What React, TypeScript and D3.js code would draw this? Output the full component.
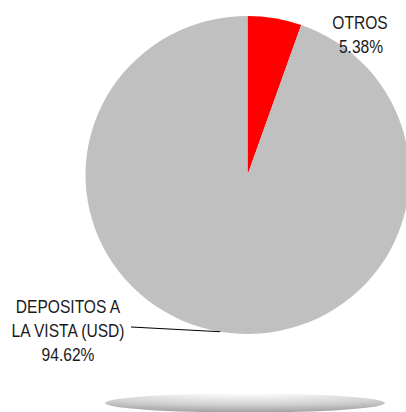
import React from "react";
import * as d3 from "d3";

const categories = ["OTROS", "DEPOSITOS A LA VISTA (USD)"];
const labelLines = [["OTROS"], ["DEPOSITOS A", "LA VISTA (USD)"]];
const values = [5.38, 94.62];
const colors = ["#FF0000", "#C0C0C0"];

export default function App() {
  const W = 406, H = 412;
  const cx = 247.5, cy = 175, r = 159, rx = 162;
  const pie = d3.pie<number>().sort(null).startAngle(0).endAngle(2 * Math.PI);
  const arcs = pie(values);
  const arc = d3.arc<d3.PieArcDatum<number>>().innerRadius(0).outerRadius(r);
  const font = "'Liberation Sans', Arial, sans-serif";
  const leaderAngle = (arcs[1].startAngle + arcs[1].endAngle) / 2;
  const lx = cx + rx * Math.sin(leaderAngle);
  const ly = cy - r * Math.cos(leaderAngle);
  const T = (x: number, y: number, s: string) => (
    <text transform={`translate(${x},${y}) scale(0.82,1)`}>{s}</text>
  );
  return (
    <svg width={W} height={H} style={{ position: "absolute", left: 0, top: 0 }}>
      <defs>
        <radialGradient id="shadow" cx="50%" cy="0%" r="100%" fx="50%" fy="0%">
          <stop offset="0%" stopColor="#ffffff" />
          <stop offset="60%" stopColor="#d0d0d0" />
          <stop offset="100%" stopColor="#a0a0a0" />
        </radialGradient>
      </defs>
      <ellipse cx={245} cy={403} rx={140} ry={9.5} fill="url(#shadow)" />
      <g transform={`translate(${cx},${cy}) scale(${rx / r},1)`}>
        {arcs.map((a, i) => (
          <path key={i} d={arc(a) || ""} fill={colors[i]} />
        ))}
      </g>
      <line x1={131} y1={327} x2={lx} y2={ly} stroke="#000" strokeWidth={1} />
      <g fontFamily={font} fontSize={19} fill="#1a1a1a" textAnchor="middle">
        {T(360, 28.5, labelLines[0][0])}
        {T(361, 52.5, `${values[0].toFixed(2)}%`)}
        {T(68, 313, labelLines[1][0])}
        {T(68, 337, labelLines[1][1])}
        {T(68, 361, `${values[1].toFixed(2)}%`)}
      </g>
    </svg>
  );
}
